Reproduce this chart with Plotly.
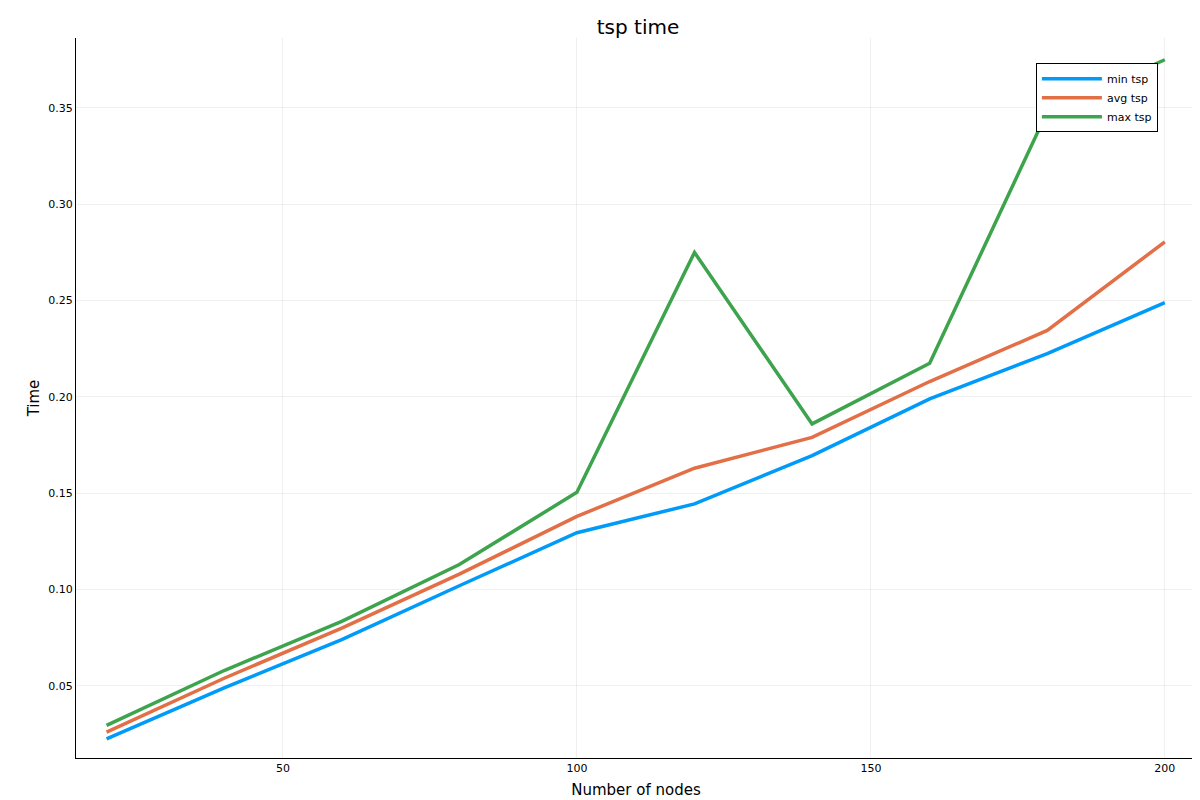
import plotly.graph_objects as go

nodes = [20, 40, 60, 80, 100, 120, 140, 160, 180, 200]
min_tsp = [0.0225, 0.049, 0.074, 0.102, 0.1295, 0.1445, 0.1695, 0.199, 0.2225, 0.249]
avg_tsp = [0.026, 0.054, 0.080, 0.108, 0.138, 0.163, 0.179, 0.208, 0.2345, 0.2805]
max_tsp = [0.0295, 0.058, 0.0835, 0.113, 0.1505, 0.275, 0.186, 0.2175, 0.348, 0.375]

series = [("min tsp", min_tsp, "#009af9"), ("avg tsp", avg_tsp, "#e26f46"), ("max tsp", max_tsp, "#3da44d")]

fig = go.Figure()
for name, vals, col in series:
    fig.add_trace(go.Scatter(x=nodes, y=vals, mode="lines", name=name,
                             line=dict(color=col, width=3.5)))

ax = dict(showline=True, linecolor="black", linewidth=1, mirror=False, ticks="outside",
          ticklen=0, gridcolor="rgba(0,0,0,0.06)", zeroline=False, automargin=False,
          tickfont=dict(size=11, color="black"))
fig.update_layout(
    width=1200, height=800, plot_bgcolor="white", paper_bgcolor="white",
    font=dict(family="DejaVu Sans", color="black"),
    margin=dict(l=68, r=12, t=30, b=50),
    title=dict(text="tsp time", x=0.525, xanchor="center", y=0.985, font=dict(size=20)),
    xaxis=dict(ax, range=[14.8, 205.3], tickvals=[50, 100, 150, 200],
               title=dict(text="Number of nodes", font=dict(size=15), standoff=10)),
    yaxis=dict(ax, range=[0.0126, 0.3863], tickvals=[0.05, 0.10, 0.15, 0.20, 0.25, 0.30, 0.35],
               tickformat=".2f", title=dict(text="Time", font=dict(size=15), standoff=5)),
    legend=dict(x=0.966, y=0.965, xanchor="right", yanchor="top", bordercolor="black",
                borderwidth=1, bgcolor="white", font=dict(size=11), itemwidth=60,
                tracegroupgap=0),
    showlegend=True,
)
fig.write_html("out.html")
